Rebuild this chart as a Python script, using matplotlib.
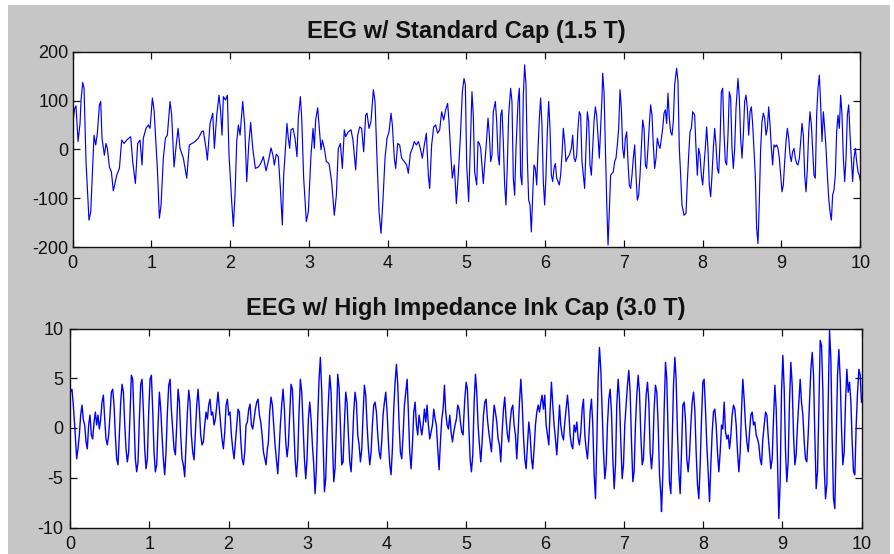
import matplotlib
matplotlib.use("Agg")
import matplotlib.pyplot as plt
from matplotlib.patches import Rectangle

plt.rcParams['font.family'] = ['Liberation Sans', 'DejaVu Sans']
plt.rcParams['axes.unicode_minus'] = False

# ---- data (time in s, amplitude) ----
std_time = [
    0.000, 0.025, 0.042, 0.068, 0.093, 0.106, 0.127, 0.144, 0.169, 0.207,
    0.229, 0.271, 0.292, 0.313, 0.339, 0.356, 0.372, 0.402, 0.423, 0.440,
    0.466, 0.491, 0.516, 0.559, 0.593, 0.622, 0.652, 0.686, 0.737, 0.762,
    0.796, 0.825, 0.855, 0.880, 0.897, 0.931, 0.961, 0.982, 1.012, 1.033,
    1.075, 1.101, 1.122, 1.151, 1.177, 1.202, 1.236, 1.257, 1.287, 1.312,
    1.338, 1.363, 1.405, 1.448, 1.481, 1.515, 1.553, 1.596, 1.638, 1.659,
    1.693, 1.710, 1.744, 1.778, 1.799, 1.829, 1.858, 1.879, 1.896, 1.913,
    1.939, 1.964, 1.985, 2.019, 2.040, 2.061, 2.083, 2.104, 2.125, 2.159,
    2.184, 2.210, 2.235, 2.260, 2.286, 2.320, 2.358, 2.387, 2.421, 2.455,
    2.493, 2.518, 2.543, 2.560, 2.586, 2.611, 2.637, 2.662, 2.679, 2.696,
    2.721, 2.738, 2.755, 2.772, 2.797, 2.823, 2.848, 2.865, 2.891, 2.908,
    2.933, 2.967, 2.992, 3.026, 3.052, 3.068, 3.085, 3.111, 3.128, 3.153,
    3.170, 3.195, 3.221, 3.255, 3.288, 3.322, 3.348, 3.373, 3.399, 3.424,
    3.449, 3.466, 3.500, 3.534, 3.559, 3.593, 3.619, 3.644, 3.669, 3.695,
    3.720, 3.737, 3.763, 3.788, 3.818, 3.839, 3.864, 3.890, 3.915, 3.941,
    3.966, 3.992, 4.017, 4.042, 4.059, 4.084, 4.101, 4.127, 4.152, 4.177,
    4.211, 4.241, 4.262, 4.288, 4.313, 4.338, 4.364, 4.389, 4.414, 4.440,
    4.465, 4.491, 4.516, 4.533, 4.558, 4.584, 4.609, 4.634, 4.660, 4.685,
    4.711, 4.736, 4.761, 4.778, 4.804, 4.821, 4.846, 4.872, 4.897, 4.922,
    4.948,
    4.969, 4.986, 5.003, 5.028, 5.045, 5.070, 5.087, 5.104, 5.130, 5.147,
    5.164, 5.181, 5.197, 5.214, 5.231, 5.248, 5.274, 5.291, 5.308, 5.324,
    5.341, 5.367, 5.384, 5.401, 5.418, 5.435, 5.451, 5.468, 5.485, 5.502,
    5.519, 5.536, 5.561, 5.578, 5.595, 5.612, 5.629, 5.655, 5.672, 5.688,
    5.705, 5.722, 5.739, 5.756, 5.773, 5.790, 5.807, 5.824, 5.841, 5.858,
    5.875, 5.892, 5.909, 5.926, 5.942, 5.959, 5.976, 5.993, 6.010, 6.027,
    6.044, 6.061, 6.078, 6.095, 6.112, 6.129, 6.146, 6.163, 6.179, 6.196,
    6.213, 6.230, 6.247, 6.264, 6.281, 6.306, 6.332, 6.349, 6.366, 6.383,
    6.400, 6.416, 6.433, 6.450, 6.467, 6.484, 6.501, 6.518, 6.535, 6.552,
    6.569, 6.586, 6.603, 6.620, 6.637, 6.653, 6.670, 6.687, 6.704, 6.721,
    6.730, 6.747, 6.764, 6.781, 6.798, 6.814, 6.831, 6.848, 6.865, 6.882,
    6.899, 6.916, 6.933, 6.950, 6.967, 6.984, 7.001, 7.018, 7.035, 7.051,
    7.068, 7.085, 7.102, 7.119, 7.136, 7.153, 7.170, 7.187, 7.204, 7.221,
    7.238, 7.255, 7.272, 7.288, 7.305, 7.322, 7.339, 7.356, 7.373, 7.390,
    7.407, 7.424, 7.441, 7.458, 7.475, 7.492, 7.509,
    7.526, 7.542, 7.559, 7.576, 7.593, 7.610, 7.627, 7.644, 7.669, 7.686,
    7.703, 7.720, 7.737, 7.763, 7.788, 7.805, 7.822, 7.839, 7.856, 7.873,
    7.898, 7.915, 7.932, 7.949, 7.966, 7.983, 8.000, 8.017, 8.033, 8.050,
    8.067, 8.084, 8.101, 8.118, 8.135, 8.152, 8.169, 8.186, 8.203, 8.220,
    8.237, 8.254, 8.270, 8.287, 8.304, 8.321, 8.338, 8.355, 8.372, 8.389,
    8.406, 8.423, 8.448, 8.465, 8.482, 8.499, 8.516, 8.533, 8.550, 8.567,
    8.584, 8.601, 8.618, 8.635, 8.651, 8.668, 8.685, 8.702, 8.719, 8.736,
    8.753, 8.770, 8.787, 8.804, 8.821, 8.838, 8.855, 8.872, 8.888, 8.905,
    8.922, 8.939, 8.956, 8.973, 8.990, 9.007, 9.024, 9.041, 9.058, 9.075,
    9.092, 9.109, 9.125, 9.142, 9.159, 9.176, 9.193, 9.210, 9.227, 9.244,
    9.261, 9.278, 9.295, 9.312, 9.329, 9.346, 9.363, 9.380, 9.396, 9.413,
    9.430, 9.447, 9.464, 9.481, 9.498, 9.515, 9.532, 9.549, 9.566, 9.583,
    9.600, 9.617, 9.634, 9.650, 9.667, 9.684, 9.701, 9.718, 9.735, 9.752,
    9.769, 9.786, 9.803, 9.820, 9.837, 9.854, 9.871, 9.888, 9.904, 9.921,
    9.938, 9.955, 9.972, 9.989, 10.0,
]
std_uv = [
    53, 84, 89, 16, 53, 101, 137, 125, -25, -145,
    -128, 29, 9, 33, 91, 98, 23, -12, 12, 2,
    -36, -46, -85, -53, -39, 19, 12, 19, 26, -25,
    -70, 12, 19, -32, 23, 43, 50, 43, 105, 81,
    -39, -141, -114, -18, 23, 29, 98, 70, -36, 5,
    43, 2, -18, -59, 9, 12, 16, 23, 36, 38,
    2, -22, 53, 74, 2, 70, 111, 77, 29, 108,
    101, 111, -12, -107, -158, -94, 16, 50, 29, 98,
    50, -66, 9, 55, 2, -39, -36, -29, -15, -44,
    -18, 3, -12, -32, -10, -15, -80, -155, -53, -12,
    53, 23, 2, 40, 43, 23, -15, 64, 108, 64,
    -59, -148, -128, -12, 43, 2, 60, 85, 50, -1,
    19, 2, -25, -29, -66, -135, -94, 2, 12, -39,
    40, 26, 36, 40, 19, -42, 29, 46, 43, -5,
    70, 74, 43, 57, 122, 98, -18, -128, -172, -100,
    -18, 23, 36, 74, 50, -18, -39, 12, 9, -18,
    -25, -32, -49, -8, 2, 16, 9, 16, 2, -18,
    9, 33, -53, -80, 9, 46, 50, 33, 40, 77,
    60, 81, 94, 57, -18, -59, -32, -111, -49, 23,
    118,
    145, 132, -32, -107, -18, 118, 70, -46, -73, 16,
    12, 2, -32, -70, -32, 2, 64, 29, -25, -12,
    77, 98, 57, -12, -32, 70, 81, 16, -73, -114,
    -32, 70, 125, 98, -59, -94, 2, 98, 125, -53,
    -73, 111, 173, 132, -18, -104, -114, -169, -94, -32,
    -39, -73, 2, 64, 105, 50, -66, -114, -53, 36,
    98, 43, -53, -66, -39, -29, -59, -66, -73, -53,
    -12, 43, 16, -25, -18, -12, 2, 29, -18, -25,
    -12, 43, 77, 70, -25, -53, -80, 2, 77, 57,
    -32, -53, 2, 57, 87, 70, 29, -18, 43, 105,
    156, 118, 2, -107, -196, -128, -53, -49, -46, -25,
    -18, 9, 43, 122, 84, 2, -18, 23, 36, -25,
    -73, -80, -53, -18, 9, -53, -104, -94, -53, 2,
    60, 43, -32, -39, 2, 50, 91, 70, 9, -39,
    -18, 23, 9, 2, 23, 43, 74,
    81, 53, 115, 64, 36, 29, 57, 132, 166, 139,
    2, -53, -114, -135, -131, -66, -12, 36, 43, 77,
    70, 2, -53, 2, -12, -53, -73, -32, 2, 46,
    2, -73, -97, -53, 2, 43, 9, -39, -49, 16,
    118, 125, 36, -25, -32, 29, 118, 105, 2, -39,
    2, 84, 145, 105, 23, -18, 29, 98, 111, 84,
    29, 77, 87, 50, 2, -53, -162, -193, -107, 2,
    57, 74, 64, 29, 43, 87, 50, 2, -32, 9,
    5, 9, 2, -18, -53, -87, -73, -25, 16, 43,
    23, -12, -25, -5, 2, -18, -29, -32, -18, 16,
    53, 29, -53, -87, -39, 36, 77, 50, 2, -53,
    -59, 70, 125, 152, 91, 16, 77, 43, 2, -53,
    -100, -128, -145, -94, -83, -53, 36, 70, 43, 111,
    70, -18, -66, -18, 70, 91, 29, -18, -66, -18,
    2, -25, -46, -53, -63,
]

ink_time = [
    0.000, 0.021, 0.038, 0.055, 0.081, 0.097, 0.114, 0.131, 0.148, 0.165,
    0.182, 0.199, 0.215, 0.232, 0.249, 0.266, 0.283, 0.300, 0.317, 0.333,
    0.350, 0.367, 0.384, 0.401, 0.418, 0.435, 0.451, 0.468, 0.485, 0.502,
    0.519, 0.536, 0.553, 0.569, 0.586, 0.603, 0.620, 0.637, 0.654, 0.671,
    0.687, 0.704, 0.721, 0.738, 0.755, 0.772, 0.789, 0.805, 0.822, 0.839,
    0.856, 0.873, 0.890, 0.907, 0.923, 0.940, 0.957, 0.974, 0.991, 1.008,
    1.025, 1.041, 1.058, 1.075, 1.092, 1.109, 1.126, 1.143, 1.159, 1.176,
    1.193, 1.210, 1.227, 1.244, 1.261, 1.277, 1.294, 1.311, 1.328, 1.345,
    1.362, 1.379, 1.395, 1.412, 1.429, 1.446, 1.463, 1.480, 1.497, 1.513,
    1.530, 1.547, 1.564, 1.581, 1.598, 1.615, 1.631, 1.648, 1.665, 1.682,
    1.699, 1.716, 1.733, 1.749, 1.766, 1.783, 1.800, 1.817, 1.834, 1.851,
    1.867, 1.884, 1.901, 1.918, 1.935, 1.952, 1.969, 1.985, 2.002, 2.019,
    2.036, 2.053, 2.070, 2.087, 2.103, 2.120, 2.137, 2.154, 2.171, 2.188,
    2.205, 2.221, 2.238, 2.255, 2.272, 2.289, 2.306, 2.323, 2.339, 2.356,
    2.373, 2.390, 2.407, 2.424, 2.441, 2.458, 2.474, 2.491,
    2.504, 2.520, 2.537, 2.554, 2.571, 2.588, 2.605, 2.622, 2.638, 2.655,
    2.672, 2.689, 2.706, 2.723, 2.740, 2.756, 2.773, 2.790, 2.807, 2.824,
    2.841, 2.858, 2.874, 2.891, 2.908, 2.925, 2.942, 2.959, 2.976, 2.992,
    3.009, 3.026, 3.043, 3.060, 3.077, 3.094, 3.110, 3.127, 3.144, 3.161,
    3.178, 3.195, 3.212, 3.228, 3.245, 3.262, 3.279, 3.296, 3.313, 3.330,
    3.346, 3.363, 3.380, 3.397, 3.414, 3.431, 3.448, 3.464, 3.481, 3.498,
    3.515, 3.532, 3.549, 3.566, 3.582, 3.599, 3.616, 3.633, 3.650, 3.667,
    3.684, 3.700, 3.717, 3.734, 3.751, 3.768, 3.785, 3.802, 3.818, 3.835,
    3.852, 3.869, 3.886, 3.903, 3.920, 3.936, 3.953, 3.970, 3.987, 4.004,
    4.021, 4.038, 4.054, 4.071, 4.088, 4.105, 4.122, 4.139, 4.156, 4.172,
    4.189, 4.206, 4.223, 4.240, 4.257, 4.273, 4.290, 4.307, 4.324, 4.341,
    4.358, 4.375, 4.391, 4.408, 4.425, 4.442, 4.459, 4.476, 4.493, 4.509,
    4.526, 4.543, 4.560, 4.577, 4.594, 4.611, 4.627, 4.644, 4.661, 4.678,
    4.695, 4.712, 4.729, 4.745, 4.762, 4.779, 4.796, 4.813, 4.830, 4.847,
    4.863, 4.880, 4.897, 4.914, 4.931, 4.948, 4.965,
    4.969, 4.986, 5.003, 5.019, 5.036, 5.053, 5.070, 5.087, 5.104, 5.121,
    5.137, 5.154, 5.171, 5.188, 5.205, 5.222, 5.239, 5.255, 5.272, 5.289,
    5.306, 5.323, 5.340, 5.357, 5.373, 5.390, 5.407, 5.424, 5.441, 5.458,
    5.475, 5.491, 5.508, 5.525, 5.542, 5.559, 5.576, 5.593, 5.609, 5.626,
    5.643, 5.660, 5.677, 5.694, 5.711, 5.727, 5.744, 5.761, 5.778, 5.795,
    5.812, 5.829, 5.845, 5.862, 5.879, 5.896, 5.913, 5.930, 5.947, 5.963,
    5.980, 5.997, 6.014, 6.031, 6.048, 6.065, 6.081, 6.098, 6.115, 6.132,
    6.149, 6.166, 6.183, 6.199, 6.216, 6.233, 6.250, 6.267, 6.284, 6.301,
    6.317, 6.334, 6.351, 6.368, 6.385, 6.402, 6.419, 6.435, 6.452, 6.469,
    6.486, 6.503, 6.520, 6.537, 6.553, 6.570, 6.587, 6.604, 6.621, 6.638,
    6.655, 6.671, 6.688, 6.705, 6.722, 6.739, 6.756, 6.773, 6.789, 6.806,
    6.823, 6.840, 6.857, 6.874, 6.891, 6.907, 6.924, 6.941, 6.958, 6.975,
    6.992, 7.008, 7.025, 7.042, 7.059, 7.076, 7.093, 7.110, 7.126, 7.143,
    7.160, 7.177, 7.194, 7.211, 7.228, 7.244, 7.261, 7.278, 7.295, 7.312,
    7.329, 7.346, 7.362, 7.379, 7.396, 7.413, 7.430, 7.447, 7.464,
    7.472, 7.489, 7.506, 7.523, 7.539, 7.556, 7.573, 7.590, 7.607, 7.624,
    7.641, 7.657, 7.674, 7.691, 7.708, 7.725, 7.742, 7.759, 7.775, 7.792,
    7.809, 7.826, 7.843, 7.860, 7.877, 7.893, 7.910, 7.927, 7.944, 7.961,
    7.978, 7.995, 8.011, 8.028, 8.045, 8.062, 8.079, 8.096, 8.113, 8.129,
    8.146, 8.163, 8.180, 8.197, 8.214, 8.231, 8.247, 8.264, 8.281, 8.298,
    8.315, 8.332, 8.349, 8.365, 8.382, 8.399, 8.416, 8.433, 8.450, 8.467,
    8.483, 8.500, 8.517, 8.534, 8.551, 8.568, 8.585, 8.601, 8.618, 8.635,
    8.652, 8.669, 8.686, 8.703, 8.719, 8.736, 8.753, 8.770, 8.787, 8.804,
    8.820, 8.837, 8.854, 8.871, 8.888, 8.905, 8.922, 8.938, 8.955, 8.972,
    8.989, 9.006, 9.023, 9.040, 9.056, 9.073, 9.090, 9.107, 9.124, 9.141,
    9.158, 9.174, 9.191, 9.208, 9.225, 9.242, 9.259, 9.276, 9.292, 9.309,
    9.326, 9.343, 9.360, 9.377, 9.394, 9.410, 9.427, 9.444, 9.461, 9.478,
    9.495, 9.512, 9.528, 9.545, 9.562, 9.579, 9.596, 9.613, 9.630, 9.646,
    9.663, 9.680, 9.697, 9.714, 9.731, 9.748, 9.764, 9.781, 9.798, 9.815,
    9.832, 9.849, 9.866, 9.882, 9.899, 9.916, 9.933, 9.950, 9.967, 9.984,
    10.0,
]
ink_uv = [
    3.6, 3.9, 2.3, 0.3, -3.1, -2.1, -0.7, 1.3, 2.3, 0.8,
    0.3, -1.4, -2.1, 0.3, 1.3, -0.7, -1.1, 0.6, 1.6, 0.3,
    1.3, -0.1, 0.9, 2.6, 3.3, 0.9, -1.1, -1.7, -0.7, 1.3,
    3.6, 3.9, 2.3, -0.7, -3.1, -3.7, -0.7, 2.6, 4.4, 3.6,
    0.6, -2.1, -3.4, -2.4, 1.3, 5.3, 4.9, 0.9, -3.1, -4.4,
    -3.4, 0.9, 4.4, 4.9, 1.9, -2.1, -4.1, -3.1, 1.6, 4.9,
    5.3, 1.9, -2.4, -4.4, -3.7, 0.3, 3.6, 1.9, -0.7, -3.1,
    -4.7, -2.4, 1.6, 4.3, 4.9, 1.9, -0.1, -2.1, -2.7, 0.3,
    3.9, 2.6, -0.7, -3.1, -3.7, -4.9, -1.7, 1.6, 3.8, 2.6,
    -0.7, -2.4, -3.2, -0.4, 2.3, 3.9, 1.9, -0.7, -1.7, -1.4,
    0.3, 1.6, 0.9, 2.3, 2.9, 1.3, 1.6, 0.3, 0.9, 2.3,
    3.6, 1.9, 0.3, -1.1, -2.1, -0.4, 2.3, 2.9, 1.3, 1.6,
    -0.7, -2.1, -3.1, -1.4, 0.3, 1.9, 1.6, -1.1, -3.1, -3.7,
    -2.4, 0.3, 0.6, 1.9, 2.4, 0.3, -0.1, 0.9, 1.9, 2.6,
    2.9, 1.3, 0.6, -0.7, -2.4, -3.1, -3.7, -2.1,
    -1.4, 1.6, 3.1, 2.3, 0.3, -1.7, -3.1, -4.6, -2.4, 0.3,
    2.3, 3.9, 1.9, -1.4, -2.9, -1.7, 1.3, 4.4, 3.9, 0.3,
    -3.1, -4.9, -3.1, 1.6, 4.9, 3.6, 0.3, -3.1, -5.1, -3.1,
    0.9, 2.6, 0.9, -1.7, -3.7, -6.6, -4.1, 0.9, 4.9, 7.1,
    3.6, -1.4, -6.4, -5.1, -0.7, 2.6, 5.3, 3.6, -1.4, -5.4,
    -4.1, 0.3, 5.4, 4.1, 0.3, -3.7, -3.4, 0.3, 3.6, 2.6,
    -0.7, -3.4, -4.4, -1.7, 1.6, 3.6, 2.6, -0.7, -1.7, -3.4,
    -2.1, 1.3, 4.3, 3.3, 0.3, -2.1, -3.7, -2.4, 0.3, 2.3,
    2.6, 1.6, -0.7, -2.4, -3.1, -1.4, 1.3, 2.6, 3.6, 1.6,
    -1.4, -3.7, -4.7, -2.1, 1.9, 4.6, 6.4, 4.3, 0.3, -2.4,
    -3.1, -0.7, 2.3, 3.6, 4.9, 1.6, -2.4, -4.1, -1.7, 1.6,
    2.6, 0.3, -0.7, 1.3, 0.3, -0.7, 0.3, 1.9, 0.6, 2.3,
    0.3, -1.1, -0.4, 0.3, 1.9, 0.9, 0.3, -2.1, -4.2, -1.4,
    0.9, 1.9, 4.3, 1.6, 0.3, -0.1, 1.3, -0.4, -1.4, -0.4,
    0.3, 0.9, 2.3, 1.9, 0.6, -0.4, -0.7,
    0.3, 2.9, 4.6, 3.9, 0.3, -3.1, -4.4, -2.7, 2.6, 5.4,
    3.6, 0.3, -1.7, -3.4, -1.4, 1.3, 2.6, 2.9, 0.9, -0.4,
    -1.4, -2.4, 0.3, 2.3, 1.6, 0.6, -1.1, -1.7, -3.4, -0.4,
    1.9, 3.1, 0.9, -0.7, -1.4, 0.6, 1.9, 2.3, 0.3, -0.7,
    -3.1, -0.4, 2.6, 4.9, 2.6, -0.7, -3.1, -4.1, -1.7, 0.6,
    -0.7, -3.1, -4.1, -2.1, 0.3, 1.6, 2.3, 1.6, 2.6, 3.3,
    1.9, 3.3, 0.3, -0.7, -1.7, 1.9, 4.6, 2.3, 0.3, -1.1,
    -2.7, -0.4, 2.3, 0.3, -0.7, -1.2, 0.6, 1.9, 3.3, 1.6,
    -0.7, -1.7, -2.1, 0.3, -0.4, 0.6, -1.1, -1.7, -0.4, 1.9,
    2.9, -0.7, -2.1, -3.1, -1.1, 1.6, 2.9, 0.3, -4.7, -7.1,
    -1.4, 4.9, 8.1, 5.9, 1.9, -2.4, -5.1, -3.7, 0.3, 2.9,
    3.9, 1.6, -3.1, -6.1, -3.7, 2.3, 4.9, 2.9, -1.4, -5.1,
    -3.7, 0.3, 2.3, 4.3, 5.8, 3.6, -1.4, -5.4, -4.4, 0.3,
    3.3, 5.3, 3.6, -0.7, -3.7, -3.1, 0.3, 3.3, 4.6, 2.6,
    -2.4, -4.1, -2.4, 1.9, 4.3, 3.6, 0.3, -4.7, -6.7,
    -8.4, -4.7, 1.9, 6.6, 4.9, -0.7, -5.4, -6.6, -1.4, 4.3,
    7.1, 4.9, -0.4, -4.4, -6.6, -2.4, 2.3, 2.6, 0.9, -3.1,
    -4.4, -2.7, 0.3, 2.6, 3.6, 1.9, -2.4, -5.7, -7.1, -3.7,
    0.9, 4.6, 4.9, 1.9, -1.7, -4.4, -7.4, -3.7, -0.4, 1.6,
    1.9, 0.3, -2.4, -4.4, -2.4, 0.3, -0.1, 2.6, -0.4, -1.1,
    -0.7, -2.1, -0.7, 1.3, 2.3, 1.9, 0.3, -2.4, -4.4, -2.4,
    1.6, 4.9, 2.9, 0.3, -1.4, -2.4, -0.4, 1.3, 1.6, 0.3,
    0.6, -0.7, -1.1, -1.7, -3.1, -3.7, -1.1, 0.3, 1.6, 1.3,
    -0.7, -2.4, -4.1, -3.1, 0.9, 4.3, 1.9, -3.1, -9.1, -5.4,
    3.6, 7.3, 3.9, -2.4, -5.4, -3.4, 2.6, 6.6, 4.3, -0.7,
    -3.7, -2.7, 0.3, 2.6, 4.9, 2.6, 1.3, -1.4, -3.1, -3.4,
    -0.7, 2.6, 5.9, 7.6, 5.3, -0.7, -6.1, -4.4, 1.9, 8.8,
    8.3, 3.6, -3.7, -7.1, -5.7, 2.6, 9.8, 6.9, -1.4, -7.1,
    -8.1, -1.4, 5.3, 7.9, 4.9, -0.1, -3.7, -2.4, 2.6, 5.9,
    3.6, 4.6, 2.6, -1.4, -4.4, -4.7, 0.3, 3.6, 5.9, 5.3,
    2.6,
]

titles = ['EEG w/ Standard Cap (1.5 T)', 'EEG w/ High Impedance Ink Cap (3.0 T)']
x_ticks = list(range(0, 11))
std_yticks = [-200, -100, 0, 100, 200]
ink_yticks = [-10, -5, 0, 5, 10]

assert len(std_time) == len(std_uv)
assert len(ink_time) == len(ink_uv)

W, H = 894, 554
fig = plt.figure(figsize=(W / 100, H / 100), dpi=100)
fig.patch.set_facecolor('white')
# grey MATLAB-style figure background (thin white margin on left/top/right)
fig.add_artist(Rectangle((8 / W, 0), 882 / W, 549 / H, transform=fig.transFigure,
                         facecolor='#c6c6c6', edgecolor='none', zorder=-10))

ax1 = fig.add_axes([72.7 / W, (H - 247) / H, 787.5 / W, 195.3 / H])
ax2 = fig.add_axes([70.3 / W, (H - 527.5) / H, 791.2 / W, 199 / H])

panels = [
    (ax1, std_time, std_uv, std_yticks, titles[0], 3, 0.85),
    (ax2, ink_time, ink_uv, ink_yticks, titles[1], 5, 1.0),
]
for ax, t, v, yt, title, ypad, lw in panels:
    ax.plot(t, v, color='#0000ff', linewidth=lw)
    ax.set_xlim(0, 10)
    ax.set_ylim(yt[0], yt[-1])
    ax.set_xticks(x_ticks)
    ax.set_yticks(yt)
    ax.set_facecolor('white')
    ax.tick_params(direction='in', length=5, width=0.9, top=True, right=True,
                   labelsize=13, colors='#111111')
    ax.tick_params(axis='x', pad=6)
    ax.tick_params(axis='y', pad=ypad)
    for sp in ax.spines.values():
        sp.set_linewidth(1.0)
        sp.set_color('#111111')
    ax.set_title(title, fontsize=17, fontweight='bold', pad=10, color='#111111')

fig.savefig('out.png', dpi=100, facecolor=fig.get_facecolor())
